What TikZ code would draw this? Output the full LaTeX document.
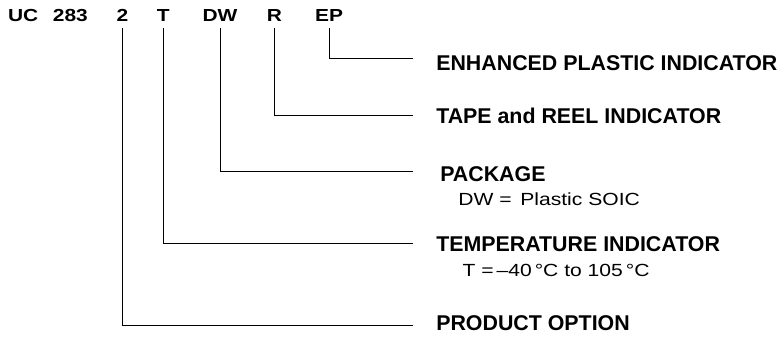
\documentclass[tikz,border=0pt]{standalone}
\usepackage{fontspec}
\setmainfont{Liberation Sans}
\newfontfamily\widesans[FakeStretch=1.2]{Liberation Sans}
\newfontfamily\widebold[FakeStretch=1.2]{Liberation Sans Bold}
\usepackage{tikz}
\usetikzlibrary{positioning}
\tikzset{code/.style = {font=\widebold\fontsize{12.4}{14}\selectfont, anchor=base, inner xsep=0, inner ysep=4.5pt}}
\tikzset{title/.style = {font=\fontsize{15.2}{17}\selectfont\bfseries, anchor=base west, inner sep=0}}
\tikzset{note/.style = {font=\widesans\fontsize{12.5}{14}\selectfont, anchor=base west, inner sep=0}}
\tikzset{lead/.style = {line width=0.65pt}}

\begin{document}
\begin{tikzpicture}
      \useasboundingbox (0, 0) rectangle (19.45, 8.475);

      \node [code] (UC) at (0.58, 7.93) {UC};
      \node [code] (num) at (1.76, 7.93) {283};
      \node [code] (opt) at (3.06, 7.93) {2};
      \node [code] (temp) at (4.08, 7.93) {T};
      \node [code] (pkg) at (5.50, 7.93) {DW};
      \node [code] (reel) at (6.86, 7.93) {R};
      \node [code] (EP) at (8.23, 7.93) {EP};

      \node [title] (EPt) at (10.90, 6.725) {ENHANCED PLASTIC INDICATOR};
      \node [title] (reelt) at (10.90, 5.39) {TAPE and REEL INDICATOR};
      \node [title] (pkgt) at (11.00, 3.95) {PACKAGE};
      \node [note] (pkgn) at (11.45, 3.35) {DW =\, Plastic SOIC};
      \node [title] (tempt) at (10.90, 2.18) {TEMPERATURE INDICATOR};
      \node [note] (tempn) at (11.56, 1.56) {T =\,–40\,°C to 105\,°C};
      \node [title] (optt) at (10.90, 0.225) {PRODUCT OPTION};

      \coordinate (EPe) at (10.33, 7.02);
      \coordinate (reele) at (10.33, 5.60);
      \coordinate (pkge) at (10.33, 4.18);
      \coordinate (tempe) at (10.33, 2.39);
      \coordinate (opte) at (10.33, 0.35);

      \draw [lead] (EP.south) |- (EPe);
      \draw [lead] (reel.south) |- (reele);
      \draw [lead] (pkg.south) |- (pkge);
      \draw [lead] (temp.south) |- (tempe);
      \draw [lead] (opt.south) |- (opte);
    \end{tikzpicture}
\end{document}
